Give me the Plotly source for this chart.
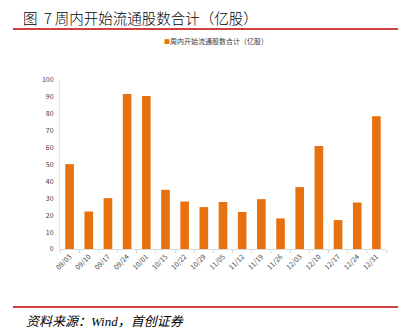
import plotly.graph_objects as go

categories = ["09/03", "09/10", "09/17", "09/24", "10/01", "10/15", "10/22", "10/29", "11/05",
              "11/12", "11/19", "11/26", "12/03", "12/10", "12/17", "12/24", "12/31"]
values = [50.2, 22.2, 30.1, 91.7, 90.5, 35.0, 28.1, 24.8, 27.8,
          21.9, 29.5, 18.1, 36.6, 61.0, 17.1, 27.5, 78.5]
series_name = "周内开始流通股数合计（亿股）"
title_text = "图&nbsp;&nbsp;7 周内开始流通股数合计（亿股）"
source_text = "资料来源：Wind，首创证券"
y_ticks = [0, 10, 20, 30, 40, 50, 60, 70, 80, 90, 100]

W, H = 408, 335
L, R, T, B = 60, 22, 80, 86
BAR_COLOR = "#E8710F"

def px_x(x):
    return (x - L) / (W - L - R)

def px_y(y):
    return (H - B - y) / (H - T - B)

fig = go.Figure()
fig.add_trace(go.Bar(
    x=categories, y=values, name=series_name,
    marker=dict(color=BAR_COLOR, line=dict(width=0)),
    showlegend=False,
))

fig.update_layout(
    width=W, height=H,
    margin=dict(l=L, r=R, t=T, b=B),
    paper_bgcolor="white", plot_bgcolor="white",
    bargap=0.55,
    font=dict(family="Noto Sans CJK SC", size=7, color="#404040"),
    showlegend=False,
    xaxis=dict(
        type="category", showgrid=False, showline=True, linecolor="#D9D9D9", linewidth=1,
        ticks="outside", ticklen=3, tickcolor="#D9D9D9", tickson="boundaries",
        tickangle=-45, tickfont=dict(size=7, color="#404040"),
    ),
    yaxis=dict(
        range=[0, 100], tickvals=y_ticks, showgrid=False, showline=True,
        linecolor="#E6E6E6", linewidth=1, ticks="", zeroline=False,
        tickfont=dict(size=7, color="#404040"), ticklabelstandoff=4,
    ),
    shapes=[
        dict(type="line", xref="paper", yref="paper",
             x0=px_x(13), x1=px_x(398), y0=px_y(29), y1=px_y(29),
             line=dict(color="#C00000", width=1.5)),
        dict(type="line", xref="paper", yref="paper",
             x0=px_x(13), x1=px_x(398), y0=px_y(307), y1=px_y(307),
             line=dict(color="#C00000", width=1.5)),
    ],
    annotations=[
        dict(text=title_text, xref="paper", yref="paper",
             x=px_x(21), y=px_y(18), xanchor="left", yanchor="middle", showarrow=False,
             font=dict(family="Noto Sans CJK SC", size=14.5, color="#000000", weight=300)),
        dict(text="<span style='color:%s;font-size:6px'>■</span>%s" % (BAR_COLOR, series_name),
             xref="paper", yref="paper",
             x=px_x(162), y=px_y(41), xanchor="left", yanchor="middle", showarrow=False,
             font=dict(family="Noto Sans CJK SC", size=7, color="#404040")),
        dict(text="<i>" + source_text + "</i>", xref="paper", yref="paper",
             x=px_x(24), y=px_y(321), xanchor="left", yanchor="middle", showarrow=False,
             font=dict(family="Liberation Serif, Noto Sans CJK SC", size=13, color="#000000")),
    ],
)

fig.write_html("out.html")
